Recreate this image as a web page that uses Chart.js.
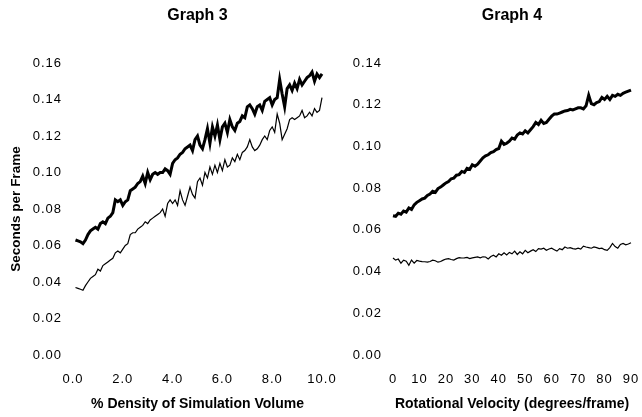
<!DOCTYPE html>
<html>
<head>
<meta charset="utf-8">
<script src="https://cdn.jsdelivr.net/npm/chart.js@4"></script>
<style>
  body { margin: 0; background: #fff; }
  #wrap { position: relative; width: 642px; height: 417px; overflow: hidden; }
  canvas { position: absolute; top: 0; }
</style>
</head>
<body>
<div id="wrap">
  <canvas id="graph3" width="340" height="417" style="left:0"></canvas>
  <canvas id="graph4" width="312" height="417" style="left:330px"></canvas>
</div>
<script>
// Graph 3: % density of simulation volume, 0.1 .. 10.0
var density = [0.1,0.2,0.3,0.4,0.5,0.6,0.7,0.8,0.9,1.0,1.1,1.2,1.3,1.4,1.5,1.6,1.7,1.8,1.9,2.0,
  2.1,2.2,2.3,2.4,2.5,2.6,2.7,2.8,2.9,3.0,3.1,3.2,3.3,3.4,3.5,3.6,3.7,3.8,3.9,4.0,
  4.1,4.2,4.3,4.4,4.5,4.6,4.7,4.8,4.9,5.0,5.1,5.2,5.3,5.4,5.5,5.6,5.7,5.8,5.9,6.0,
  6.1,6.2,6.3,6.4,6.5,6.6,6.7,6.8,6.9,7.0,7.1,7.2,7.3,7.4,7.5,7.6,7.7,7.8,7.9,8.0,
  8.1,8.2,8.3,8.4,8.5,8.6,8.7,8.8,8.9,9.0,9.1,9.2,9.3,9.4,9.5,9.6,9.7,9.8,9.9,10.0];
var g3Thick = [0.063,0.0625,0.062,0.061,0.063,0.066,0.068,0.069,0.070,0.069,
  0.072,0.073,0.072,0.075,0.076,0.078,0.085,0.084,0.085,0.082,
  0.084,0.085,0.090,0.091,0.092,0.094,0.095,0.098,0.094,0.100,
  0.096,0.099,0.100,0.099,0.100,0.100,0.102,0.101,0.099,0.105,
  0.107,0.108,0.110,0.111,0.113,0.114,0.115,0.112,0.118,0.120,
  0.115,0.113,0.118,0.124,0.116,0.125,0.120,0.126,0.118,0.125,
  0.127,0.122,0.129,0.125,0.123,0.127,0.128,0.131,0.130,0.136,
  0.137,0.135,0.132,0.136,0.137,0.134,0.139,0.140,0.141,0.137,
  0.140,0.141,0.151,0.143,0.136,0.146,0.148,0.145,0.149,0.146,
  0.151,0.148,0.150,0.152,0.153,0.155,0.150,0.154,0.152,0.154];
var g3Thin = [0.037,0.0365,0.036,0.0355,0.038,0.040,0.042,0.043,0.044,0.047,
  0.046,0.049,0.050,0.051,0.052,0.053,0.056,0.057,0.056,0.058,
  0.060,0.061,0.066,0.067,0.067,0.069,0.070,0.071,0.073,0.072,
  0.074,0.075,0.076,0.077,0.078,0.080,0.076,0.083,0.085,0.083,
  0.085,0.082,0.090,0.085,0.082,0.087,0.092,0.088,0.086,0.095,
  0.097,0.093,0.100,0.097,0.103,0.099,0.104,0.100,0.105,0.101,
  0.107,0.103,0.104,0.108,0.106,0.110,0.107,0.111,0.112,0.114,
  0.118,0.114,0.112,0.113,0.115,0.118,0.120,0.118,0.123,0.125,
  0.122,0.132,0.127,0.118,0.121,0.124,0.129,0.130,0.129,0.130,
  0.131,0.134,0.130,0.131,0.133,0.131,0.135,0.133,0.134,0.141];

// Graph 4: rotational velocity, 0 .. 90 degrees/frame
var velocity = [0,1,2,3,4,5,6,7,8,9,10,11,12,13,14,15,16,17,18,19,20,21,22,23,24,25,26,27,28,29,30,
  31,32,33,34,35,36,37,38,39,40,41,42,43,44,45,46,47,48,49,50,51,52,53,54,55,56,57,58,59,60,
  61,62,63,64,65,66,67,68,69,70,71,72,73,74,75,76,77,78,79,80,81,82,83,84,85,86,87,88,89,90];
var g4Thick = [0.0668,0.0665,0.068,0.0675,0.069,0.0685,0.0705,0.0698,0.072,0.0732,0.074,
  0.0748,0.0752,0.0765,0.0772,0.0785,0.078,0.0798,0.0805,0.0815,0.0825,
  0.0832,0.0845,0.0848,0.0862,0.0865,0.0880,0.0875,0.0895,0.089,0.0912,
  0.0905,0.0915,0.093,0.0945,0.0955,0.096,0.097,0.0975,0.0985,0.099,
  0.1025,0.101,0.1015,0.1025,0.104,0.1035,0.1055,0.1065,0.106,0.1075,
  0.1065,0.108,0.1095,0.1115,0.1105,0.1125,0.111,0.1115,0.113,0.1145,
  0.1155,0.1155,0.116,0.1165,0.117,0.1172,0.1178,0.1175,0.118,0.1185,
  0.1185,0.118,0.1195,0.1245,0.1205,0.120,0.121,0.1215,0.1235,0.1225,
  0.124,0.1225,0.1245,0.124,0.125,0.1245,0.1255,0.126,0.1265,0.127];
var g4Thin = [0.0465,0.0455,0.0460,0.0440,0.0455,0.0450,0.0430,0.0455,0.0440,0.0453,0.0450,
  0.0448,0.0447,0.0445,0.0448,0.0455,0.0452,0.0445,0.0448,0.0455,0.0460,
  0.0462,0.0458,0.0455,0.0462,0.0467,0.0465,0.0466,0.0468,0.0462,0.0466,
  0.0468,0.0470,0.0466,0.0471,0.0470,0.0460,0.0472,0.0478,0.0470,0.0485,
  0.0478,0.0490,0.0480,0.0492,0.0485,0.0498,0.0482,0.0495,0.0485,0.0502,
  0.0490,0.0498,0.0505,0.0496,0.0510,0.0508,0.0512,0.0502,0.0508,0.0512,
  0.0505,0.0498,0.0510,0.0505,0.0518,0.0512,0.0515,0.0510,0.0508,0.0512,
  0.0508,0.0522,0.0518,0.0515,0.0512,0.0518,0.0515,0.0510,0.0512,0.0505,
  0.0502,0.0515,0.0535,0.0520,0.0512,0.0530,0.0535,0.0528,0.0532,0.0538];

var FONT = "'Liberation Sans', Arial, sans-serif";

// tick labels in the original are a bit letter-spaced
var spacedTicks = {
  id: 'spacedTicks',
  beforeDraw: function(chart){
    Object.keys(chart.scales).forEach(function(k){
      var scale = chart.scales[k];
      if (scale._spaced) return;
      var orig = scale.drawLabels;
      scale.drawLabels = function(area){
        this.ctx.save();
        this.ctx.letterSpacing = '1px';
        orig.call(this, area);
        this.ctx.restore();
      };
      scale._spaced = true;
    });
  }
};

var toPoints = function(xs, ys){
  return xs.map(function(x, i){ return {x: x, y: ys[i]}; });
};

var makeChart = function(id, opts){
  return new Chart(document.getElementById(id), {
    type: 'line',
    data: {
      datasets: [
        {data: toPoints(opts.xs, opts.thick), borderColor: '#000', borderWidth: 3, pointRadius: 0, tension: 0, clip: false},
        {data: toPoints(opts.xs, opts.thin), borderColor: '#000', borderWidth: 1.2, pointRadius: 0, tension: 0, clip: false}
      ]
    },
    plugins: [spacedTicks],
    options: {
      responsive: false,
      animation: false,
      events: [],
      layout: {padding: {left: 0, right: opts.padRight, top: 0, bottom: 0}},
      plugins: {
        legend: {display: false},
        tooltip: {enabled: false},
        title: {
          display: true,
          text: opts.title,
          fullSize: false,
          color: '#000',
          font: {family: FONT, size: 16, weight: 'bold'},
          padding: {top: 6, bottom: 37.8}
        }
      },
      scales: {
        x: {
          type: 'linear',
          min: 0,
          max: opts.xMax,
          grid: {display: false, drawTicks: false},
          border: {display: false},
          ticks: {
            stepSize: opts.xStep,
            padding: 17,
            color: '#000',
            maxRotation: 0,
            font: {family: FONT, size: 13},
            callback: function(v){ return opts.xFmt(v); }
          },
          title: {
            display: true,
            text: opts.xTitle,
            color: '#000',
            font: {family: FONT, size: 14, weight: 'bold'},
            padding: {top: 0, bottom: 4.6}
          },
          afterFit: function(axis){
            axis.height = 62;
            axis.paddingLeft = 0;
            axis.paddingRight = 0;
          }
        },
        y: {
          min: 0,
          max: opts.yMax,
          grid: {display: false, drawTicks: false},
          border: {display: false},
          ticks: {
            stepSize: 0.02,
            padding: 11,
            color: '#000',
            font: {family: FONT, size: 13},
            callback: function(v){ return v.toFixed(2); }
          },
          title: {
            display: !!opts.yTitle,
            text: opts.yTitle || '',
            color: '#000',
            font: {family: FONT, size: 13.5, weight: 'bold'},
            padding: {top: 8, bottom: 0}
          },
          afterFit: function(axis){
            axis.width = opts.yWidth;
            axis.paddingTop = 0;
            axis.paddingBottom = 0;
          }
        }
      }
    }
  });
};

var graph3 = makeChart('graph3', {
  xs: density, thick: g3Thick, thin: g3Thin,
  title: 'Graph 3',
  xTitle: '% Density of Simulation Volume',
  yTitle: 'Seconds per Frame',
  xMax: 10, xStep: 2, yMax: 0.16,
  xFmt: function(v){ return v.toFixed(1); },
  yWidth: 73, padRight: 18
});

var graph4 = makeChart('graph4', {
  xs: velocity, thick: g4Thick, thin: g4Thin,
  title: 'Graph 4',
  xTitle: 'Rotational Velocity (degrees/frame)',
  xMax: 90, xStep: 10, yMax: 0.14,
  xFmt: function(v){ return String(v); },
  yWidth: 63, padRight: 11
});
</script>
</body>
</html>
